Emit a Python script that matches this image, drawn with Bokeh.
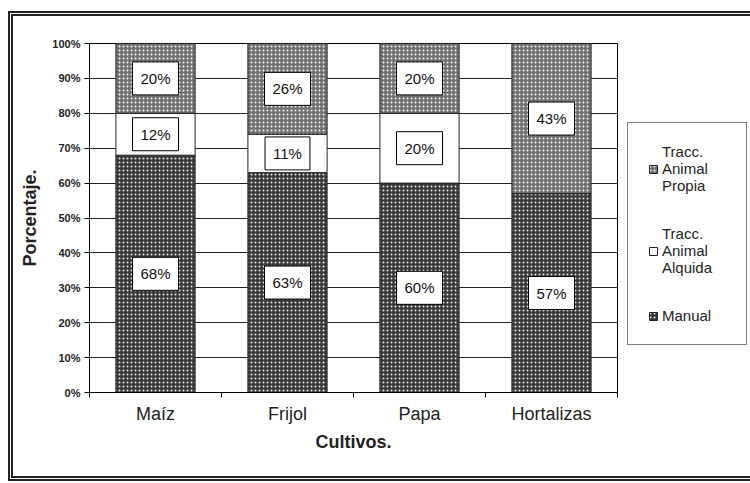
import numpy as np
from bokeh.plotting import figure
from bokeh.layouts import column
from bokeh.models import (Range1d, FixedTicker, PrintfTickFormatter, Label, Legend,
                          LegendItem, ColumnDataSource)
from bokeh.embed import file_html
from bokeh.resources import INLINE

# ---- data ----
cultivos = ["Maíz", "Frijol", "Papa", "Hortalizas"]
manual = [68, 63, 60, 57]
alquilada = [12, 11, 20, 0]
propia = [20, 26, 20, 43]
y_ticks = [0, 10, 20, 30, 40, 50, 60, 70, 80, 90, 100]
series_names = ["Manual", "Tracc.\nAnimal\nAlquida", "Tracc.\nAnimal\nPropia"]

FONT = "Liberation Sans"

xc = list(np.arange(len(cultivos)) + 0.5)
src = ColumnDataSource(dict(x=xc, manual=manual, alquilada=alquilada, propia=propia))

p = figure(x_range=Range1d(0, len(cultivos)), y_range=Range1d(0, 100),
           frame_width=528, frame_height=349,
           min_border_left=76, min_border_right=133, min_border_top=27, min_border_bottom=84,
           output_backend="svg", toolbar_location=None)
p.background_fill_color = "white"
p.border_fill_color = "white"
p.outline_line_color = "black"
p.outline_line_width = 1

styles = [
    dict(fill_color="#383838", hatch_pattern="dot", hatch_color="#e8e8e8", hatch_scale=4, hatch_weight=1.6),
    dict(fill_color="white", hatch_pattern=None),
    dict(fill_color="#707070", hatch_pattern="dot", hatch_color="#f8f8f8", hatch_scale=4, hatch_weight=3.0),
]
renderers = p.vbar_stack(["manual", "alquilada", "propia"], x="x", width=0.6, source=src,
                         line_color="#222222", line_width=1,
                         fill_color=[s["fill_color"] for s in styles],
                         hatch_pattern=[s.get("hatch_pattern") for s in styles],
                         hatch_color=[s.get("hatch_color", "black") for s in styles],
                         hatch_scale=[s.get("hatch_scale", 4) for s in styles],
                         hatch_weight=[s.get("hatch_weight", 1) for s in styles])

# grid
p.xgrid.grid_line_color = None
p.ygrid.ticker = FixedTicker(ticks=y_ticks)
p.ygrid.grid_line_color = "#222222"
p.ygrid.grid_line_width = 1
p.ygrid.level = "image"

# y axis
ya = p.yaxis[0]
ya.ticker = FixedTicker(ticks=y_ticks, minor_ticks=[])
ya.formatter = PrintfTickFormatter(format="%d%%")
ya.major_tick_out = 5
ya.major_tick_in = 0
ya.major_tick_line_color = "black"
ya.axis_line_color = "black"
ya.major_label_text_font = FONT
ya.major_label_text_font_style = "bold"
ya.major_label_text_font_size = "11px"
ya.major_label_text_color = "#222222"
ya.major_label_standoff = 4
ya.axis_label = "Porcentaje."
ya.axis_label_text_font = FONT
ya.axis_label_text_font_style = "bold"
ya.axis_label_text_font_size = "18px"
ya.axis_label_text_color = "#222222"
ya.axis_label_standoff = 9

# x axis
xa = p.xaxis[0]
xa.ticker = FixedTicker(ticks=xc, minor_ticks=list(range(len(cultivos) + 1)))
xa.major_label_overrides = {float(x): c for x, c in zip(xc, cultivos)}
xa.major_tick_line_color = None
xa.major_tick_out = 0
xa.major_tick_in = 0
xa.minor_tick_out = 5
xa.minor_tick_in = 0
xa.minor_tick_line_color = "black"
xa.axis_line_color = "black"
xa.major_label_text_font = FONT
xa.major_label_text_font_size = "18px"
xa.major_label_text_color = "#222222"
xa.major_label_standoff = 6
xa.axis_label = "Cultivos."
xa.axis_label_text_font = FONT
xa.axis_label_text_font_style = "bold"
xa.axis_label_text_font_size = "18px"
xa.axis_label_text_color = "#222222"
xa.axis_label_standoff = 5

# value labels
for i, x in enumerate(xc):
    bottoms = [0, manual[i], manual[i] + alquilada[i]]
    vals = [manual[i], alquilada[i], propia[i]]
    for b, v in zip(bottoms, vals):
        if v <= 0:
            continue
        p.add_layout(Label(x=x, y=b + v / 2, text=f"{v}%", text_align="center",
                           text_baseline="middle", text_font=FONT, text_font_size="15px",
                           text_color="#111111", background_fill_color="white",
                           border_line_color="black", border_line_width=1,
                           padding=8))

# legend
items = [LegendItem(label=series_names[2], renderers=[renderers[2]]),
         LegendItem(label=series_names[1], renderers=[renderers[1]]),
         LegendItem(label=series_names[0], renderers=[renderers[0]])]
legend = Legend(items=items, location=(10, 47), margin=0, padding=20,
                spacing=31, glyph_width=10, glyph_height=10, label_standoff=4,
                label_width=64, label_text_font=FONT, label_text_font_size="15px",
                label_text_color="#222222", border_line_color="black",
                border_line_width=1, background_fill_color="white",
                background_fill_alpha=1)
p.add_layout(legend, "right")

layout = column(p, styles={"border-left": "5px double #222222",
                           "border-top": "5px double #222222",
                           "border-bottom": "5px double #222222",
                           "margin-left": "8px", "margin-top": "11px"})

open("out.html", "w").write(file_html(layout, INLINE))
